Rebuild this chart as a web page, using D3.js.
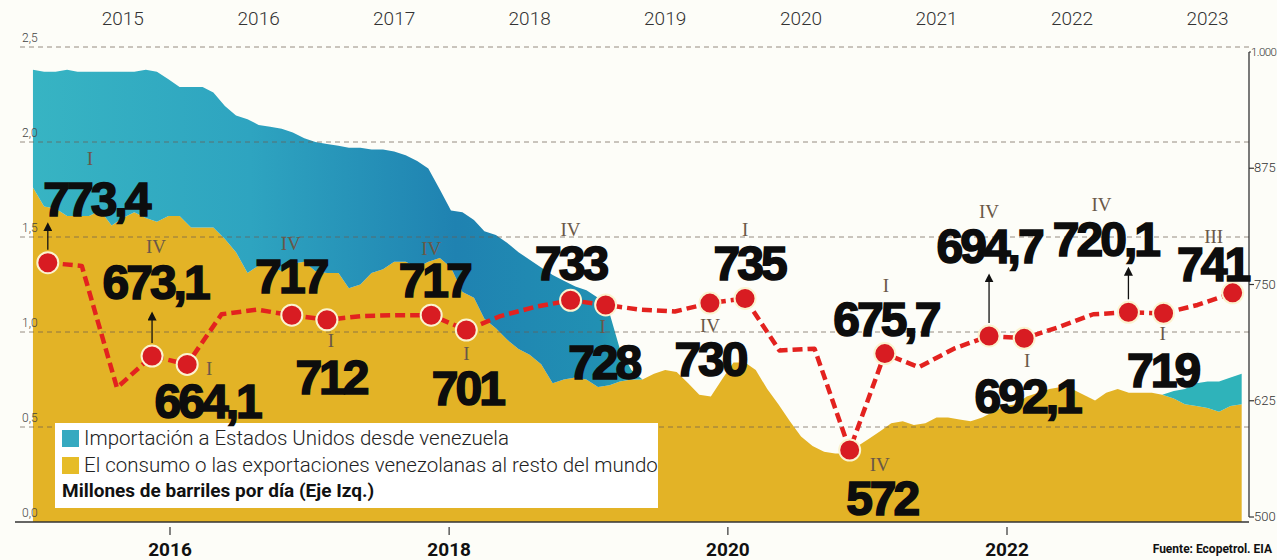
<!DOCTYPE html>
<html>
<head>
<meta charset="utf-8">
<script src="https://cdn.jsdelivr.net/npm/d3@7"></script>
<style>
  body { margin: 0; background: #fdfdf8; }
  svg { display: block; }
</style>
</head>
<body>
<div id="chart"></div>
<script>

// barras mensuales (millones de barriles por dia), desde nov-2014
const areaStart = new Date(2014, 10, 1);
const restOfWorld = [
  1.76, 1.66, 1.65, 1.61, 1.61, 1.61, 1.64, 1.56, 1.60, 1.63,
  1.60, 1.58, 1.61, 1.61, 1.55, 1.55, 1.55, 1.49, 1.42, 1.31,
  1.35, 1.35, 1.32, 1.36, 1.37, 1.32, 1.31, 1.31, 1.23, 1.25,
  1.31, 1.33, 1.37, 1.37, 1.34, 1.37, 1.39, 1.34, 1.21, 1.18,
  1.07, 1.02, 0.96, 0.91, 0.88, 0.83, 0.73, 0.75, 0.76, 0.75,
  0.71, 0.72, 0.74, 0.75, 0.75, 0.78, 0.80, 0.79, 0.73, 0.67,
  0.66, 0.75, 0.84, 0.84, 0.80, 0.70, 0.62, 0.53, 0.45, 0.40,
  0.37, 0.36, 0.36, 0.40, 0.44, 0.48, 0.52, 0.53, 0.51, 0.52,
  0.55, 0.55, 0.54, 0.53, 0.55, 0.58, 0.61, 0.62, 0.66, 0.68,
  0.70, 0.71, 0.70, 0.67, 0.64, 0.68, 0.70, 0.68, 0.68, 0.68,
  0.67, 0.65, 0.62, 0.61, 0.60, 0.58, 0.61, 0.62
];
const usImports = [
  0.62, 0.71, 0.72, 0.77, 0.76, 0.76, 0.73, 0.81, 0.77, 0.74,
  0.78, 0.79, 0.72, 0.68, 0.74, 0.74, 0.71, 0.70, 0.72, 0.81,
  0.74, 0.73, 0.75, 0.69, 0.65, 0.68, 0.68, 0.67, 0.74, 0.72,
  0.65, 0.63, 0.58, 0.56, 0.56, 0.49, 0.36, 0.30, 0.42, 0.41,
  0.46, 0.49, 0.51, 0.51, 0.50, 0.51, 0.57, 0.52, 0.48, 0.47,
  0.47, 0.38, 0.17, 0.05, 0, 0, 0, 0, 0, 0,
  0, 0, 0, 0, 0, 0, 0, 0, 0, 0,
  0, 0, 0, 0, 0, 0, 0, 0, 0, 0,
  0, 0, 0, 0, 0, 0, 0, 0, 0, 0,
  0, 0, 0, 0, 0, 0, 0, 0, 0, 0,
  0, 0.04, 0.08, 0.12, 0.14, 0.16, 0.15, 0.16
];

// produccion trimestral de Colombia (miles de barriles por dia, eje der.)
const quarters = [
  "2015-1", "2015-2", "2015-3", "2015-4", "2016-1", "2016-2", "2016-3", "2016-4",
  "2017-1", "2017-2", "2017-3", "2017-4", "2018-1", "2018-2", "2018-3", "2018-4",
  "2019-1", "2019-2", "2019-3", "2019-4", "2020-1", "2020-2", "2020-3", "2020-4",
  "2021-1", "2021-2", "2021-3", "2021-4", "2022-1", "2022-2", "2022-3", "2022-4",
  "2023-1", "2023-2", "2023-3"
];
const productionKbd = [
  773.4, 770, 639, 673.1, 664.1, 718, 723, 717,
  712, 716, 717, 717, 701, 716, 726, 733,
  728, 723, 721, 730, 735, 679, 681, 572,
  675.7, 661, 681, 694.7, 692.1, 704, 718, 720.1,
  719, 728, 741
];
const labelled = [0, 3, 4, 7, 8, 11, 12, 15, 16, 19, 20, 23, 24, 27, 28, 31, 32, 34];

const topYears = [2015, 2016, 2017, 2018, 2019, 2020, 2021, 2022, 2023];
const bottomYears = [2016, 2018, 2020, 2022];
const leftTicks = [0, 0.5, 1, 1.5, 2, 2.5];
const rightTicks = [500, 625, 750, 875, 1000];
const legendItems = [
  "Importación a Estados Unidos desde venezuela",
  "El consumo o las exportaciones venezolanas al resto del mundo"
];

// --- colocacion de las etiquetas (desplazamientos respecto al punto) ---
const labelLayout = [
  { num: [48, -47], rom: [42, -104], arrow: [-13, -36] },
  { num: [3, -57], rom: [4, -110], arrow: [-13, -40] },
  { num: [20, 54], rom: [22, 4] },
  { num: [-1, -22], rom: [-1, -72] },
  { num: [4, 74], rom: [4, 21] },
  { num: [3, -18], rom: [0, -67] },
  { num: [1, 75], rom: [0, 23] },
  { num: [0, -20], rom: [0, -71] },
  { num: [-2, 74], rom: [-3, 21] },
  { num: [0, 73], rom: [0, 22] },
  { num: [4, -18], rom: [0, -69] },
  { num: [32, 65], rom: [30, 14] },
  { num: [1, -18], rom: [1, -68] },
  { num: [0, -73], rom: [0, -125], arrow: [-13, -58] },
  { num: [3, 75], rom: [3, 22] },
  { num: [-23, -56], rom: [-27, -108], arrow: [-13, -41] },
  { num: [-1, 74], rom: [-1, 20] },
  { num: [-20, -12], rom: [-19, -57] }
];

const width = 1277;
const height = 560;
const yellow = "#e3b326";
const red = "#e3221f";

const svg = d3.select("#chart").append("svg")
  .attr("width", width)
  .attr("height", height);

svg.append("rect").attr("width", width).attr("height", height).attr("fill", "#fdfdf8");

// escalas
const months = d3.timeMonth.range(areaStart, d3.timeMonth.offset(areaStart, restOfWorld.length));
const topX = d3.scaleTime()
  .domain([new Date(2015, 0, 1), new Date(2016, 0, 1)])
  .range([55.6, 191.1]);
const botX = d3.scaleTime()
  .domain([new Date(2016, 0, 1), new Date(2022, 0, 1)])
  .range([170, 1007]);
const leftY = d3.scaleLinear().domain([0, 2.5]).range([522, 47]);
const rightY = d3.scaleLinear().domain([500, 1000]).range([517, 52]);

const plotLeft = 20;
const plotRight = 1249;

// areas apiladas
const table = months.map((m, i) => ({ date: m, rest: restOfWorld[i], us: usImports[i] }));
const series = d3.stack().keys(["rest", "us"])(table);

const defs = svg.append("defs");
const grad = defs.append("linearGradient")
  .attr("id", "tealGrad")
  .attr("gradientUnits", "userSpaceOnUse")
  .attr("x1", 33).attr("x2", 1241).attr("y1", 0).attr("y2", 0);
[[0, "#37b4c3"], [0.18, "#2ea4c0"], [0.35, "#1f82b1"], [0.47, "#2190b3"],
 [0.5, "#2aa8b5"], [0.93, "#2fb3ba"], [1, "#2fb3ba"]].forEach(([o, c]) => {
  grad.append("stop").attr("offset", o).attr("stop-color", c);
});

const area = d3.area()
  .x(d => topX(d.data.date))
  .y0(d => leftY(d[0]))
  .y1(d => leftY(d[1]));

svg.append("g").selectAll("path")
  .data(series)
  .enter().append("path")
  .attr("d", area)
  .attr("fill", (d, i) => i === 0 ? yellow : "url(#tealGrad)");

// lineas guia (eje izq.)
svg.append("g").selectAll("line")
  .data(leftTicks.filter(t => t > 0))
  .enter().append("line")
  .attr("x1", plotLeft).attr("x2", plotRight)
  .attr("y1", d => leftY(d)).attr("y2", d => leftY(d))
  .attr("stroke", "#6b5b50")
  .attr("stroke-opacity", 0.7)
  .attr("stroke-width", 1)
  .attr("stroke-dasharray", "5,4");

svg.append("g").selectAll("text")
  .data(leftTicks)
  .enter().append("text")
  .attr("x", plotLeft + 2)
  .attr("y", d => leftY(d) - 5)
  .attr("font-family", "Roboto, sans-serif")
  .attr("font-weight", 300)
  .attr("font-size", 12)
  .attr("fill", "#444")
  .text(d => d3.format(".1f")(d).replace(".", ","));

// eje inferior
svg.append("line")
  .attr("x1", 15).attr("x2", plotRight)
  .attr("y1", leftY(0)).attr("y2", leftY(0))
  .attr("stroke", "#333").attr("stroke-width", 1.5);

const bottomAxis = svg.append("g").selectAll("g")
  .data(bottomYears)
  .enter().append("g")
  .attr("transform", d => `translate(${botX(new Date(d, 0, 1))},0)`);
bottomAxis.append("line")
  .attr("y1", 527).attr("y2", 535)
  .attr("stroke", "#333").attr("stroke-width", 1.2);
bottomAxis.append("text")
  .attr("y", 556)
  .attr("text-anchor", "middle")
  .attr("font-family", "Roboto, sans-serif")
  .attr("font-weight", 700)
  .attr("font-size", 19)
  .attr("fill", "#111")
  .text(d => d);

// eje superior (anos de las areas)
svg.append("g").selectAll("text")
  .data(topYears)
  .enter().append("text")
  .attr("x", d => topX(new Date(d, 6, 1)))
  .attr("y", 25)
  .attr("text-anchor", "middle")
  .attr("font-family", "Roboto, sans-serif")
  .attr("font-weight", 300)
  .attr("font-size", 19)
  .attr("fill", "#333")
  .text(d => d);

// eje derecho
svg.append("line")
  .attr("x1", plotRight).attr("x2", plotRight)
  .attr("y1", rightY(1000)).attr("y2", rightY(500))
  .attr("stroke", "#333").attr("stroke-width", 1.3);
const rightAxis = svg.append("g").selectAll("g")
  .data(rightTicks)
  .enter().append("g")
  .attr("transform", d => `translate(${plotRight},${rightY(d)})`);
rightAxis.append("line")
  .attr("x2", d => d === 1000 ? 2 : 5)
  .attr("stroke", "#333").attr("stroke-width", 1.2);
rightAxis.append("text")
  .attr("x", d => d === 1000 ? 2 : 5)
  .attr("y", 4)
  .attr("font-family", "Roboto, sans-serif")
  .attr("font-weight", 300)
  .attr("font-size", d => d === 1000 ? 11.5 : 13)
  .attr("letter-spacing", d => d === 1000 ? -0.6 : 0)
  .attr("fill", "#333")
  .text(d => d === 1000 ? "1.000" : d);

// leyenda
const legend = svg.append("g").attr("transform", "translate(55,423)");
legend.append("rect")
  .attr("width", 603).attr("height", 85)
  .attr("fill", "#fff");
legendItems.forEach((txt, i) => {
  legend.append("rect")
    .attr("x", 7).attr("y", 7 + i * 27)
    .attr("width", 17).attr("height", 17)
    .attr("fill", i === 0 ? "#35a9c0" : "#e6bc27");
  legend.append("text")
    .attr("x", 29).attr("y", 22 + i * 27)
    .attr("font-family", "Roboto, sans-serif")
    .attr("font-weight", 300)
    .attr("font-size", 20.5)
    .attr("fill", "#222")
    .text(txt);
});
legend.append("text")
  .attr("x", 7).attr("y", 74)
  .attr("font-family", "Roboto, sans-serif")
  .attr("font-weight", 700)
  .attr("font-size", 19)
  .attr("fill", "#111")
  .text("Millones de barriles por día (Eje Izq.)");

// linea de produccion
const prod = quarters.map((q, i) => {
  const [yr, qn] = q.split("-").map(Number);
  return { date: new Date(yr, (qn - 1) * 3 + 1, 15), value: productionKbd[i], q: qn };
});

const line = d3.line()
  .x(d => botX(d.date))
  .y(d => rightY(d.value));

svg.append("path")
  .datum(prod)
  .attr("d", line)
  .attr("fill", "none")
  .attr("stroke", red)
  .attr("stroke-width", 4.5)
  .attr("stroke-dasharray", "10,5")
  .attr("stroke-linejoin", "round");

const roman = ["I", "II", "III", "IV"];
const marks = labelled.map((idx, k) => ({ p: prod[idx], lay: labelLayout[k] }));

defs.append("marker")
  .attr("id", "arrowHead")
  .attr("viewBox", "0 0 10 10")
  .attr("refX", 5).attr("refY", 5)
  .attr("markerWidth", 7).attr("markerHeight", 7)
  .attr("orient", "auto-start-reverse")
  .append("path")
  .attr("d", "M0,0 L10,5 L0,10 z")
  .attr("fill", "#111");

svg.append("g").selectAll("line")
  .data(marks.filter(d => d.lay.arrow))
  .enter().append("line")
  .attr("x1", d => botX(d.p.date)).attr("x2", d => botX(d.p.date))
  .attr("y1", d => rightY(d.p.value) + d.lay.arrow[0])
  .attr("y2", d => rightY(d.p.value) + d.lay.arrow[1])
  .attr("stroke", "#111")
  .attr("stroke-width", 1.3)
  .attr("marker-end", "url(#arrowHead)");

svg.append("g").selectAll("circle")
  .data(marks)
  .enter().append("circle")
  .attr("cx", d => botX(d.p.date))
  .attr("cy", d => rightY(d.p.value))
  .attr("r", 10.5)
  .attr("fill", "#d81c22")
  .attr("stroke", "#fbf3d0")
  .attr("stroke-width", 2);

svg.append("g").selectAll("text")
  .data(marks)
  .enter().append("text")
  .attr("x", d => botX(d.p.date) + d.lay.rom[0])
  .attr("y", d => rightY(d.p.value) + d.lay.rom[1])
  .attr("dy", "0.35em")
  .attr("text-anchor", "middle")
  .attr("font-family", "'Liberation Serif', serif")
  .attr("font-size", 19)
  .attr("fill", "#6a5848")
  .text(d => roman[d.p.q - 1]);

svg.append("g").selectAll("text")
  .data(marks)
  .enter().append("text")
  .attr("x", d => botX(d.p.date) + d.lay.num[0])
  .attr("y", d => rightY(d.p.value) + d.lay.num[1])
  .attr("text-anchor", "middle")
  .attr("font-family", "'Liberation Sans', Arial, sans-serif")
  .attr("font-weight", 700)
  .attr("font-size", 48)
  .attr("letter-spacing", -3)
  .attr("fill", "#0d0d0d")
  .attr("stroke", "#0d0d0d")
  .attr("stroke-width", 1.6)
  .text(d => String(d.p.value).replace(".", ","));

svg.append("text")
  .attr("x", 1272).attr("y", 553)
  .attr("text-anchor", "end")
  .attr("font-family", "Roboto, sans-serif")
  .attr("font-weight", 700)
  .attr("font-size", 12)
  .attr("fill", "#111")
  .text("Fuente: Ecopetrol. EIA");
</script>
</body>
</html>
